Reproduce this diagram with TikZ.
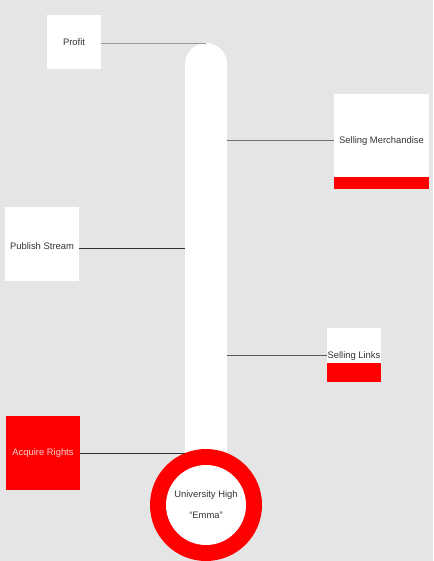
\documentclass[tikz,border=0pt]{standalone}
\usepackage{fontspec}
\setmainfont{Liberation Sans}
\definecolor{bg}{HTML}{E5E5E5}
\definecolor{txt}{HTML}{333333}
\definecolor{rd}{HTML}{FF0000}
\definecolor{pinktxt}{HTML}{FFD0D0}
\begin{document}
\begin{tikzpicture}[x=1pt,y=-1pt,
  box/.style={fill=white,draw=none,inner sep=0pt,minimum width=#1,minimum height=#1,text=txt,font=\fontsize{9.4}{11}\selectfont},
  lbl/.style={text=txt,font=\fontsize{9.4}{11}\selectfont},
  conn/.style={draw=txt,line width=0.9pt},
  connlight/.style={draw=gray!80,line width=1pt}]
\fill[bg] (0,0) rectangle (433,561);
\useasboundingbox (0,0) rectangle (433,561);
% tube
\fill[white] (185,470) -- (185,64) arc[start angle=180,end angle=360,radius=21] -- (227,470) -- cycle;
% bulb
\fill[rd] (206,505) circle[radius=56];
\node[circle,fill=white,minimum size=80pt,inner sep=0pt,text=txt,font=\fontsize{9.4}{11}\selectfont,align=center] (bulb) at (206,505) {University High\\[10pt]``Emma''};
% tube anchor points
\coordinate (ttop) at (206,43.5);
\coordinate (tm) at (227,140);
\coordinate (tp) at (185,248);
\coordinate (tl) at (227,355);
\coordinate (ta) at (185,453);
% boxes
\node[box=54pt] (profit) at (74,42) {Profit};
\node[box=95pt] (merch) at (381.5,141.5) {};
\fill[rd] (334,177) rectangle (429,189);
\node[lbl] (merchlbl) at (381.5,141) {Selling Merchandise};
\node[box=74pt] (publish) at (42,244) {};
\node[lbl] (publbl) at (42,246.5) {Publish Stream};
\node[box=54pt] (links) at (354,355) {};
\fill[rd] (327,363) rectangle (381,382);
\node[lbl] (linkslbl) at (354,356) {Selling Links};
\node[box=74pt,fill=rd,text=pinktxt] (acquire) at (43,453) {Acquire Rights};
% connectors
\draw[connlight] (profit.east |- ttop) -- (ttop);
\draw[conn,draw=gray!90!black] (tm) -- (merch.west |- tm);
\draw[conn] (publish.east |- tp) -- (tp);
\draw[conn,draw=gray!70!black] (tl) -- (links.west |- tl);
\draw[conn] (acquire.east |- ta) -- (ta);
\end{tikzpicture}
\end{document}
